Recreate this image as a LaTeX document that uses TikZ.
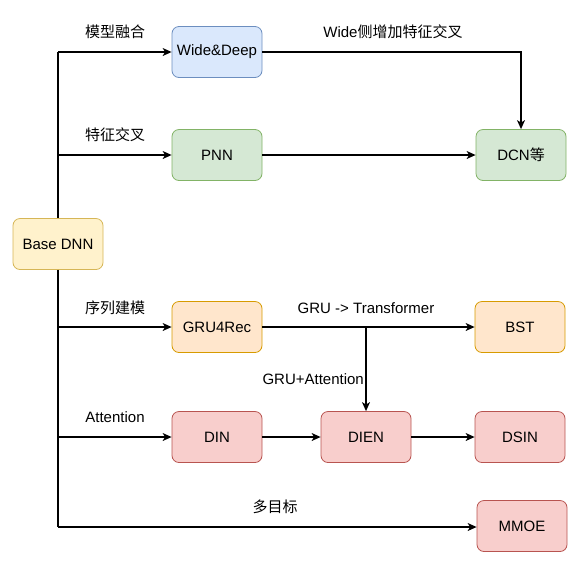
\documentclass[tikz,border=0pt]{standalone}
\usepackage{fontspec}
\setmainfont{Liberation Sans}
\newfontfamily\cjk{Noto Sans CJK SC}
\usetikzlibrary{arrows.meta}
\definecolor{bluef}{HTML}{DAE8FC}\definecolor{blued}{HTML}{6C8EBF}
\definecolor{greenf}{HTML}{D5E8D4}\definecolor{greend}{HTML}{82B366}
\definecolor{orangef}{HTML}{FFE6CC}\definecolor{oranged}{HTML}{D79B00}
\definecolor{redf}{HTML}{F8CECC}\definecolor{redd}{HTML}{B85450}
\definecolor{yellowf}{HTML}{FFF2CC}\definecolor{yellowd}{HTML}{D6B656}
\begin{document}
\begin{tikzpicture}[x=1pt,y=-1pt,
  box/.style={draw, rounded corners=7pt, minimum width=90pt, minimum height=51pt, inner sep=0pt, font=\fontsize{15}{18}\selectfont, line width=0.8pt},
  bluebox/.style={box, fill=bluef, draw=blued},
  greenbox/.style={box, fill=greenf, draw=greend},
  orangebox/.style={box, fill=orangef, draw=oranged},
  redbox/.style={box, fill=redf, draw=redd},
  yellowbox/.style={box, fill=yellowf, draw=yellowd},
  conn/.style={line width=1.2pt, -{Stealth[length=9pt,width=8pt,inset=2.5pt]}},
  lbl/.style={font=\fontsize{15}{18}\selectfont, inner sep=0pt}
]
\useasboundingbox (0,0) rectangle (580,566);
\node[yellowbox] (base) at (58,244) {Base DNN};
\node[bluebox] (wd) at (217,52) {Wide\&Deep};
\node[greenbox] (pnn) at (217,155) {PNN};
\node[greenbox] (dcn) at (521,155) {DCN{\cjk 等}};
\node[orangebox] (gru) at (217,327) {GRU4Rec};
\node[orangebox] (bst) at (520,327) {BST};
\node[redbox] (din) at (217,437) {DIN};
\node[redbox] (dien) at (366,437) {DIEN};
\node[redbox] (dsin) at (520,437) {DSIN};
\node[redbox] (mmoe) at (522,526) {MMOE};
\coordinate (top) at (58,52);
\coordinate (bot) at (58,527);
\coordinate (split) at (366,327);
\coordinate (corner) at (521,52);
\begin{scope}[on background layer/.try]
\end{scope}
\draw[line width=1.2pt] (top) -- (base.north);
\draw[line width=1.2pt] (base.south) -- (bot);
\draw[conn] (top) -- (wd.west);
\draw[conn] (58,155) -- (pnn.west);
\draw[conn] (58,327) -- (gru.west);
\draw[conn] (58,437) -- (din.west);
\draw[conn] (bot) -- (mmoe.west |- bot);
\draw[conn] (wd.east) -- (corner) -- (dcn.north);
\draw[conn] (pnn.east) -- (dcn.west);
\draw[conn] (gru.east) -- (bst.west);
\draw[conn] (split) -- (dien.north);
\draw[conn] (din.east) -- (dien.west);
\draw[conn] (dien.east) -- (dsin.west);
\node[lbl] at (115,32) {\cjk 模型融合};
\node[lbl] at (115,135) {\cjk 特征交叉};
\node[lbl] at (115,308) {\cjk 序列建模};
\node[lbl] at (115,417) {Attention};
\node[lbl] at (275,507) {\cjk 多目标};
\node[lbl] at (393,32) {Wide{\cjk 侧增加特征交叉}};
\node[lbl] at (366,308) {GRU -> Transformer};
\node[lbl, anchor=east] at (364,379) {GRU+Attention};
\end{tikzpicture}
\end{document}
